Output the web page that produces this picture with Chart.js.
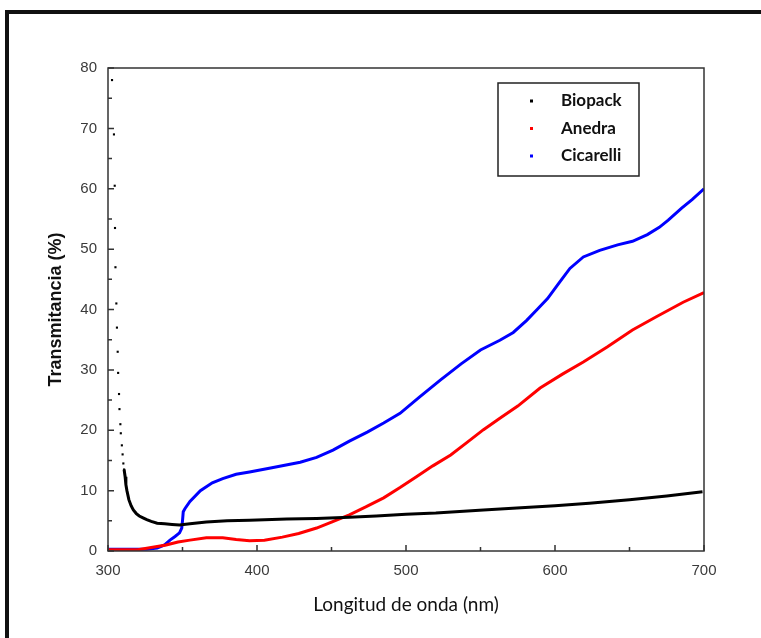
<!DOCTYPE html>
<html>
<head>
<meta charset="utf-8">
<script src="https://cdn.jsdelivr.net/npm/chart.js@4.4.0/dist/chart.umd.min.js"></script>
<style>
  html, body { margin: 0; padding: 0; background: #fff; }
  #wrap { position: relative; width: 761px; height: 638px; overflow: hidden; }
  #frame { position: absolute; left: 5px; top: 10px; width: 820px; height: 720px;
           border: 4px solid #111; pointer-events: none; }
</style>
</head>
<body>
<div id="wrap">
  <canvas id="chart"></canvas>
  <div id="frame"></div>
</div>
<script>
// Transmitancia vs longitud de onda
const seriesNames = ['Biopack', 'Anedra', 'Cicarelli'];
const seriesColors = ['#000000', '#ff0000', '#0000ff'];

const bioX = [302.7, 304, 304.5, 304.7, 305, 305.6, 306, 306.5, 306.8, 307.4, 307.7, 308.3, 308.6, 309.3, 309.8, 310.3,
  310.8, 311.5, 312, 312.7, 314, 315.5, 317, 319, 321, 323.5, 326, 329, 333, 338, 343, 348, 355, 366, 380, 395, 420, 440, 462,
  480, 500, 520, 552, 580, 600, 623, 650, 675, 699];
const bioY = [78, 69, 60.5, 53.5, 47, 41, 37, 33, 29.5, 26, 23.5, 21, 19.5, 17.5, 16, 14.5,
  13.5, 12.3, 11, 10, 8.5, 7.5, 6.8, 6.2, 5.8, 5.5, 5.2, 4.9, 4.6, 4.5, 4.4, 4.3, 4.5, 4.8, 5, 5.1, 5.3, 5.4, 5.6,
  5.8, 6.1, 6.3, 6.8, 7.2, 7.5, 7.9, 8.5, 9.1, 9.8];

const aneX = [300, 320, 325, 332, 339, 347, 355, 366, 377, 386, 395, 405, 417, 428, 440, 450, 462, 473, 485, 496,
  507, 518, 530, 541, 552, 563, 575, 590, 605, 619, 635, 652, 668, 686, 700];
const aneY = [0.2, 0.2, 0.4, 0.7, 1.0, 1.5, 1.8, 2.2, 2.2, 1.9, 1.7, 1.8, 2.3, 2.9, 3.8, 4.8, 6.0, 7.3, 8.8, 10.5,
  12.3, 14.1, 15.9, 18.0, 20.1, 22.0, 24.0, 27.0, 29.3, 31.3, 33.8, 36.6, 38.8, 41.2, 42.8];

const cicX = [300, 326, 333, 338, 341.6, 345, 348, 349.5, 350, 350.5, 351.6, 355, 362, 370, 377, 386, 395, 410, 429,
  440, 451, 462, 474, 485, 496, 509, 523, 537, 550, 563, 572, 581, 588, 595, 603, 610, 619, 630, 642, 652, 662, 670,
  676, 685, 692, 700];
const cicY = [0.3, 0.3, 0.5, 1.0, 1.8, 2.4, 3.0, 3.8, 5.0, 6.5, 7.0, 8.2, 10.0, 11.3, 12.0, 12.7, 13.1, 13.8, 14.7,
  15.5, 16.7, 18.2, 19.7, 21.2, 22.8, 25.5, 28.3, 31.0, 33.3, 34.9, 36.2, 38.2, 40.0, 41.8, 44.5, 46.8, 48.7, 49.8,
  50.7, 51.3, 52.4, 53.6, 54.8, 56.8, 58.2, 60.0];

const xTicks = [300, 400, 500, 600, 700];
const xMinor = [350, 450, 550, 650];
const yTicks = [0, 10, 20, 30, 40, 50, 60, 70, 80];
const yMinor = [5, 15, 25, 35, 45, 55, 65, 75];

// below this wavelength the Biopack trace is only sparse dots
const dotLimit = 311.5;

const toPts = (xs, ys) => xs.map((x, i) => ({ x: x, y: ys[i] }));

// inward tick marks, plot frame and legend box
const decor = {
  id: 'decor',
  afterDatasetsDraw(chart) {
    const { ctx, chartArea: a, scales } = chart;
    ctx.save();
    ctx.strokeStyle = '#333';
    ctx.lineWidth = 1.5;
    ctx.beginPath();
    xTicks.forEach(v => { const p = scales.x.getPixelForValue(v); ctx.moveTo(p, a.bottom); ctx.lineTo(p, a.bottom - 6); });
    xMinor.forEach(v => { const p = scales.x.getPixelForValue(v); ctx.moveTo(p, a.bottom); ctx.lineTo(p, a.bottom - 4); });
    yTicks.forEach(v => { const p = scales.y.getPixelForValue(v); ctx.moveTo(a.left, p); ctx.lineTo(a.left + 6, p); });
    yMinor.forEach(v => { const p = scales.y.getPixelForValue(v); ctx.moveTo(a.left, p); ctx.lineTo(a.left + 4, p); });
    ctx.stroke();
    ctx.strokeRect(a.left, a.top, a.right - a.left, a.bottom - a.top);

    // legend
    const bx = 498, by = 83, bw = 141, bh = 93;
    ctx.fillStyle = '#fff';
    ctx.fillRect(bx, by, bw, bh);
    ctx.strokeStyle = '#222';
    ctx.lineWidth = 1.5;
    ctx.strokeRect(bx, by, bw, bh);
    ctx.font = 'bold 17px Lato';
    ctx.textBaseline = 'middle';
    seriesNames.forEach((name, i) => {
      const y = by + 18 + i * 27.5;
      ctx.fillStyle = seriesColors[i];
      ctx.fillRect(bx + 32, y - 1.5, 3, 3);
      ctx.fillStyle = '#111';
      ctx.fillText(name, bx + 63, y);
    });
    ctx.restore();
  }
};

new Chart(document.getElementById('chart'), {
  type: 'scatter',
  data: {
    datasets: [
      {
        label: seriesNames[0],
        data: toPts(bioX, bioY),
        showLine: true,
        borderColor: seriesColors[0],
        backgroundColor: seriesColors[0],
        borderWidth: 3,
        pointStyle: 'rect',
        pointRadius: c => (c.raw && c.raw.x < dotLimit) ? 1.5 : 0,
        pointBorderWidth: 0,
        segment: { borderColor: c => c.p0.parsed.x < dotLimit - 1 ? 'rgba(0,0,0,0)' : seriesColors[0] }
      },
      {
        label: seriesNames[1],
        data: toPts(aneX, aneY),
        showLine: true,
        borderColor: seriesColors[1],
        borderWidth: 3,
        pointRadius: 0
      },
      {
        label: seriesNames[2],
        data: toPts(cicX, cicY),
        showLine: true,
        borderColor: seriesColors[2],
        borderWidth: 3,
        pointRadius: 0
      }
    ]
  },
  options: {
    responsive: true,
    maintainAspectRatio: false,
    animation: false,
    layout: { padding: { top: 68, right: 57, left: 0, bottom: 0 } },
    plugins: { legend: { display: false }, tooltip: { enabled: false } },
    scales: {
      x: {
        type: 'linear',
        min: 300, max: 700,
        afterFit: s => { s.height = 87; },
        afterBuildTicks: s => { s.ticks = xTicks.map(v => ({ value: v })); },
        ticks: { color: '#3a3a3a', font: { family: 'Liberation Sans', size: 15 }, padding: 11 },
        grid: { display: false, drawTicks: false },
        border: { display: false },
        title: {
          display: true, text: 'Longitud de onda (nm)', color: '#111',
          font: { family: 'Lato', size: 19 }, padding: { top: 0, bottom: 22 }
        }
      },
      y: {
        min: 0, max: 80,
        afterFit: s => { s.width = 108; },
        afterBuildTicks: s => { s.ticks = yTicks.map(v => ({ value: v })); },
        ticks: { color: '#3a3a3a', font: { family: 'Liberation Sans', size: 15 }, padding: 11 },
        grid: { display: false, drawTicks: false },
        border: { display: false },
        title: {
          display: true, text: 'Transmitancia (%)', color: '#111',
          font: { family: 'Liberation Sans', size: 18, weight: 'bold' }, padding: { top: 45, bottom: 0 }
        }
      }
    }
  },
  plugins: [decor]
});
</script>
</body>
</html>
